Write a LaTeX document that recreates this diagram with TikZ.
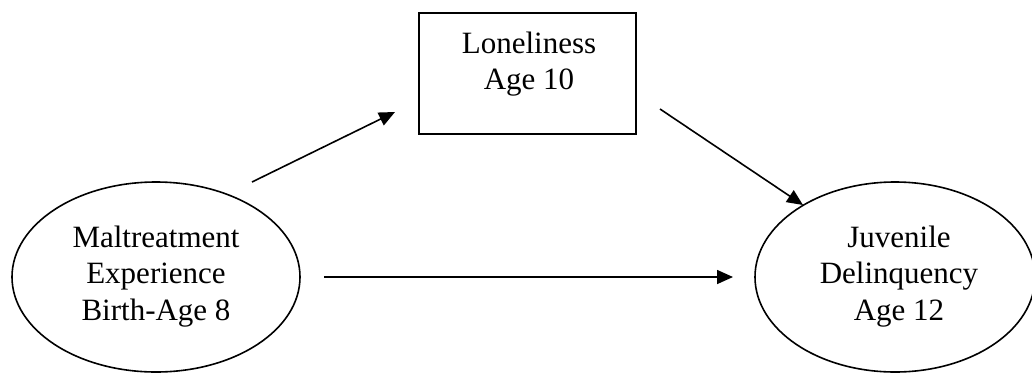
\documentclass[tikz,border=0pt]{standalone}
\usepackage{fontspec}
\setmainfont{Liberation Serif}
\usetikzlibrary{arrows.meta,shapes.geometric}

\begin{document}
\begin{tikzpicture}[x=1pt,y=-1pt,
  oval/.style={draw, line width=1.6pt, ellipse, inner sep=0pt},
  boxnode/.style={draw, line width=1.6pt, rectangle, inner sep=0pt},
  label text/.style={align=center, font=\fontsize{31}{36.5}\selectfont, inner sep=0pt},
  path arrow/.style={line width=1.6pt, -{Triangle[length=16pt,width=14pt]}}
]
\useasboundingbox (0,0) rectangle (1032,373);

% constructs
\node[boxnode, minimum width=217pt, minimum height=121pt] (lone) at (527.5,73.5) {};
\node[label text] (lonetext) at (529,64) {Loneliness\\Age 10};

\node[oval, minimum width=288pt, minimum height=190pt] (malt) at (156,277) {};
\node[label text] (malttext) at (156,276.5) {Maltreatment\\Experience\\Birth-Age 8};

\node[oval, minimum width=280pt, minimum height=190pt] (juv) at (895,277) {};
\node[label text] (juvtext) at (899,276.5) {Juvenile\\Delinquency\\Age 12};

% arrow end points
\coordinate (a1s) at (252,182);
\coordinate (a1e) at (395,112);
\coordinate (a2s) at (660,109);
\coordinate (a2e) at (803,205);
\coordinate (a3s) at (324,277);
\coordinate (a3e) at (733,277);

% paths
\draw[path arrow] (a1s) -- (a1e);
\draw[path arrow] (a2s) -- (a2e);
\draw[path arrow] (a3s) -- (a3e);
\end{tikzpicture}
\end{document}
